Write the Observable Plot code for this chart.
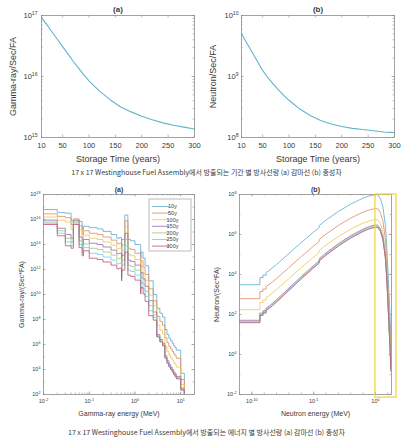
<!DOCTYPE html>
<html>
<head>
<meta charset="utf-8">
<script src="https://cdn.jsdelivr.net/npm/d3@7"></script>
<script src="https://cdn.jsdelivr.net/npm/@observablehq/plot@0.6"></script>
<style>
  body { margin: 0; background: #fff; }
  #fig { position: relative; width: 413px; height: 442px; overflow: hidden; background: #fff; }
  .panel { position: absolute; }
  .panel svg { overflow: visible; }
  .cap { position: absolute; left: 0; width: 413px; text-align: center; font-family: "Noto Sans CJK KR", "Noto Sans", sans-serif; font-size: 7px; line-height: 12px; color: #3a3a3a; white-space: nowrap; }
</style>
</head>
<body>
<div id="fig">
  <div id="tl" class="panel" style="left:0px;top:0px"></div>
  <div id="tr" class="panel" style="left:206px;top:0px"></div>
  <div class="cap" style="top:166px">17 x 17 Westinghouse Fuel Assembly에서 방출되는 기간 별 방사선량 (a) 감마선 (b) 중성자</div>
  <div id="bl" class="panel" style="left:0px;top:180px"></div>
  <div id="br" class="panel" style="left:206px;top:180px"></div>
  <div class="cap" style="top:426px">17 x 17 Westinghouse Fuel Assembly에서 방출되는 에너지 별 방사선량 (a) 감마선 (b) 중성자</div>
</div>
<script>
// ---------------- DATA ----------------
// (top) total source vs storage time
const storageYears = [10, 20, 30, 40, 50, 60, 70, 80, 90, 100, 120, 140, 160, 180, 200, 220, 240, 260, 280, 300];
const gammaTotalLog10 = [16.97, 16.85, 16.73, 16.61, 16.49, 16.37, 16.25, 16.14, 16.03, 15.93, 15.76, 15.62, 15.50, 15.42, 15.35, 15.29, 15.24, 15.20, 15.17, 15.14];
const neutronTotalLog10 = [9.70, 9.55, 9.40, 9.25, 9.10, 8.98, 8.88, 8.78, 8.69, 8.61, 8.47, 8.36, 8.28, 8.22, 8.18, 8.15, 8.13, 8.11, 8.09, 8.08];
const storageTicks = [10, 50, 100, 150, 200, 250, 300];

// (bottom) spectra
const ageLabels = ["10y", "50y", "100y", "150y", "200y", "250y", "300y"];

// gamma group boundaries (MeV)
const gammaBounds = [0.01, 0.02, 0.03, 0.04, 0.045, 0.06, 0.07, 0.075, 0.1, 0.15, 0.2, 0.3, 0.4, 0.45, 0.51, 0.512, 0.6, 0.7, 0.8, 1.0,
  1.333, 1.344, 1.5, 1.66, 2.0, 2.5, 3.0, 3.5, 4.0, 4.5, 5.0, 5.5, 6.0, 6.5, 7.0, 7.5, 8.0, 10, 12, 14, 20];
// log10(gamma-ray/(sec*FA)) per group
const gamma10y  = [16.8, 16.55, 16.5, 15.9, 16.0, 15.85, 15.2, 15.45, 15.35, 15.25, 15.05, 14.8, 14.5, 14.55, 13.0, 14.4, 16.35, 14.4, 14.3, 14.0,
  12.9, 13.4, 12.9, 12.3, 11.1, 10.0, 8.9, 8.5, 8.2, 7.2, 6.8, 6.5, 6.3, 6.1, 5.9, 5.75, 5.55, 3.7, 1.2, 0.5];
const gamma50y  = [16.45, 16.25, 16.15, 15.6, 16.05, 15.5, 14.8, 15.1, 14.9, 14.8, 14.6, 14.35, 14.05, 14.1, 12.6, 13.95, 15.9, 13.7, 13.6, 13.3,
  12.2, 12.7, 12.2, 11.6, 10.45, 9.5, 8.25, 7.85, 7.55, 6.55, 6.15, 5.85, 5.65, 5.45, 5.25, 5.1, 4.9, 3.2, 0.8, 0.2];
const gamma100y = [16.2, 15.95, 15.8, 15.2, 16.0, 15.15, 14.4, 14.75, 14.5, 14.4, 14.2, 13.95, 13.65, 13.7, 12.2, 13.55, 15.4, 13.2, 13.1, 12.8,
  11.7, 12.2, 11.7, 11.1, 9.95, 9.1, 7.55, 7.15, 6.85, 5.85, 5.45, 5.15, 4.95, 4.75, 4.55, 4.4, 4.2, 2.8, 0.5, 0.0];
const gamma150y = [15.95, 15.3, 14.8, 14.5, 15.9, 14.6, 13.9, 14.4, 14.1, 14.0, 13.8, 13.55, 13.25, 13.3, 11.8, 13.15, 14.9, 12.75, 12.65, 12.35,
  11.25, 11.75, 11.25, 10.65, 9.5, 8.6, 6.8, 6.4, 6.1, 5.1, 4.7, 4.4, 4.2, 4.0, 3.8, 3.65, 3.45, 2.5, 0.3, -0.2];
const gamma200y = [15.8, 15.1, 14.5, 14.2, 15.8, 14.3, 13.6, 14.05, 13.7, 13.6, 13.4, 13.15, 12.85, 12.9, 11.5, 12.75, 14.4, 12.35, 12.25, 11.95,
  10.85, 11.35, 10.85, 10.25, 9.1, 8.35, 6.7, 6.3, 6.0, 5.0, 4.6, 4.3, 4.1, 3.9, 3.7, 3.55, 3.35, 2.45, 0.3, -0.2];
const gamma250y = [15.7, 14.9, 14.2, 13.9, 15.7, 14.0, 13.3, 13.75, 13.3, 13.2, 13.0, 12.75, 12.45, 12.5, 11.3, 12.35, 13.9, 11.95, 11.85, 11.55,
  10.45, 10.95, 10.45, 9.85, 8.7, 8.15, 6.65, 6.25, 5.95, 4.95, 4.55, 4.25, 4.05, 3.85, 3.65, 3.5, 3.3, 2.4, 0.3, -0.2];
const gamma300y = [15.6, 14.7, 13.9, 13.7, 15.6, 13.75, 13.1, 13.5, 12.9, 12.8, 12.6, 12.35, 12.05, 12.1, 11.1, 11.95, 13.4, 11.55, 11.45, 11.15,
  10.05, 10.55, 10.05, 9.45, 8.3, 7.95, 6.6, 6.2, 5.9, 4.9, 4.5, 4.2, 4.0, 3.8, 3.6, 3.45, 3.25, 2.35, 0.3, -0.2];
const gammaSpectra = [gamma10y, gamma50y, gamma100y, gamma150y, gamma200y, gamma250y, gamma300y];

// neutron spectrum: log10(energy MeV) points and log10(neutron/(sec*FA))
const neutronEnergyLog10 = [-11, -9.35, -9.35, -9.1, -9.1, -8.85, -8.85, -8.6, -8, -7, -6, -5, -4.55, -4.55, -4, -3, -2, -1, -0.5,
  0, 0.2, 0.4, 0.6, 0.8, 0.9, 1.0, 1.1, 1.2, 1.25];
const neutron10y  = [3.49, 3.49, 3.85, 3.85, 3.97, 3.97, 4.10, 4.20, 4.50, 5.05, 5.60, 6.12, 6.35, 6.45, 6.72, 7.15, 7.52, 7.82, 7.93,
  8.00, 7.98, 7.80, 7.40, 6.50, 5.60, 4.40, 3.00, 1.70, 0.80];
const neutron50y  = [2.79, 2.79, 3.15, 3.15, 3.27, 3.27, 3.40, 3.50, 3.80, 4.35, 4.90, 5.42, 5.65, 5.75, 6.02, 6.45, 6.82, 7.12, 7.23,
  7.30, 7.28, 7.10, 6.70, 5.80, 4.90, 3.70, 2.30, 1.00, 0.10];
const neutron100y = [2.24, 2.24, 2.60, 2.60, 2.72, 2.72, 2.85, 2.95, 3.25, 3.80, 4.35, 4.87, 5.10, 5.20, 5.47, 5.90, 6.27, 6.57, 6.68,
  6.75, 6.73, 6.55, 6.15, 5.25, 4.35, 3.15, 1.75, 0.45, -0.45];
const neutron150y = [1.71, 1.71, 2.07, 2.07, 2.19, 2.19, 2.32, 2.42, 2.74, 3.32, 3.90, 4.45, 4.69, 4.79, 5.08, 5.54, 5.94, 6.27, 6.40,
  6.48, 6.46, 6.28, 5.88, 4.98, 4.08, 2.88, 1.48, 0.18, -0.72];
const neutron200y = [1.66, 1.66, 2.02, 2.02, 2.14, 2.14, 2.27, 2.37, 2.69, 3.27, 3.85, 4.40, 4.64, 4.74, 5.03, 5.49, 5.89, 6.22, 6.35,
  6.43, 6.41, 6.23, 5.83, 4.93, 4.03, 2.83, 1.43, 0.13, -0.77];
const neutron250y = [1.62, 1.62, 1.98, 1.98, 2.10, 2.10, 2.23, 2.33, 2.65, 3.23, 3.81, 4.36, 4.60, 4.70, 4.99, 5.45, 5.85, 6.18, 6.31,
  6.39, 6.37, 6.19, 5.79, 4.89, 3.99, 2.79, 1.39, 0.09, -0.81];
const neutron300y = [1.59, 1.59, 1.95, 1.95, 2.07, 2.07, 2.20, 2.30, 2.62, 3.20, 3.78, 4.33, 4.57, 4.67, 4.96, 5.42, 5.82, 6.15, 6.28,
  6.36, 6.34, 6.16, 5.76, 4.86, 3.96, 2.76, 1.36, 0.06, -0.84];
const neutronSpectra = [neutron10y, neutron50y, neutron100y, neutron150y, neutron200y, neutron250y, neutron300y];

// highlighted region in (b) spectrum
const highlightRegion = [{e1: 1, e2: 50, n1: 0.007, n2: 1e8}];

// ---------------- STYLE ----------------
const FONT = '"Liberation Sans", Arial, Helvetica, sans-serif';
const FRAME = "#8c8c8c";
const TEXT = "#3a3a3a";
const CURVE = "#62b4cd";
const seriesColors = ["#5aaad2", "#e08a5c", "#eec650", "#9a6aae", "#9cc874", "#74cbef", "#c0506c"];

// ---------------- TABLES ----------------
const topGamma = storageYears.map((t, i) => ({t, v: Math.pow(10, gammaTotalLog10[i])}));
const topNeutron = storageYears.map((t, i) => ({t, v: Math.pow(10, neutronTotalLog10[i])}));
const gammaRows = [];
gammaSpectra.forEach((vals, s) => {
  vals.forEach((v, g) => gammaRows.push({series: ageLabels[s], e: gammaBounds[g], v: Math.pow(10, v)}));
  gammaRows.push({series: ageLabels[s], e: gammaBounds[gammaBounds.length - 1], v: Math.pow(10, vals[vals.length - 1])});
});
const neutronRows = [];
neutronSpectra.forEach((vals, s) => {
  vals.forEach((v, k) => neutronRows.push({series: ageLabels[s], e: Math.pow(10, neutronEnergyLog10[k]), v: Math.pow(10, v)}));
});

// ---------------- HELPERS ----------------
const powFmt = d => "10^" + Math.round(Math.log10(d));
function decades(lo, hi) { return d3.range(lo, hi + 1).map(e => Math.pow(10, e)); }
function boxTicksX(values, fh, len) {
  return [
    Plot.tickX(values, {x: d => d, insetTop: fh - len, stroke: FRAME, strokeWidth: 0.6}),
    Plot.tickX(values, {x: d => d, insetBottom: fh - len, stroke: FRAME, strokeWidth: 0.6})
  ];
}
function boxTicksY(values, fw, len) {
  return [
    Plot.tickY(values, {y: d => d, insetRight: fw - len, stroke: FRAME, strokeWidth: 0.6}),
    Plot.tickY(values, {y: d => d, insetLeft: fw - len, stroke: FRAME, strokeWidth: 0.6})
  ];
}
function superscripts(svg) {
  d3.select(svg).selectAll("text").each(function () {
    const m = /^10\^(-?\d+)$/.exec(this.textContent.trim());
    if (!m) return;
    const sel = d3.select(this);
    sel.text(null);
    sel.append("tspan").text("10");
    sel.append("tspan").attr("dy", "-0.55em").attr("font-size", "0.68em").text(m[1]);
  });
  return svg;
}
const baseStyle = fs => ({fontFamily: FONT, fontSize: fs, color: TEXT, background: "transparent", overflow: "visible"});

// ---------------- TOP LEFT ----------------
{
  const W = 206, H = 170, mL = 41, mR = 12, mT = 15, mB = 33;
  const fw = W - mL - mR, fh = H - mT - mB;
  const svg = Plot.plot({
    width: W, height: H, marginLeft: mL, marginRight: mR, marginTop: mT, marginBottom: mB,
    style: baseStyle("7.5px"),
    x: {type: "linear", domain: [10, 300]},
    y: {type: "log", domain: [1e15, 1e17]},
    marks: [
      ...boxTicksX(storageTicks, fh, 2.5),
      ...boxTicksY(d3.scaleLog().domain([1e15, 1e17]).ticks(), fw, 1.5),
      ...boxTicksY(decades(15, 17), fw, 2.5),
      Plot.line(topGamma, {x: "t", y: "v", stroke: CURVE, strokeWidth: 1.1}),
      Plot.frame({stroke: FRAME, strokeWidth: 0.8}),
      Plot.axisX(storageTicks, {tickSize: 0, tickPadding: 5, label: null, fontSize: 7.5}),
      Plot.axisY(decades(15, 17), {tickSize: 0, tickPadding: 4, tickFormat: powFmt, label: null, fontSize: 7.5}),
      Plot.text(["(a)"], {text: d => d, frameAnchor: "top", dy: -6, lineAnchor: "middle", fontWeight: "bold", fontSize: 8}),
      Plot.text(["Storage Time (years)"], {text: d => d, frameAnchor: "bottom", dy: 22, lineAnchor: "middle", fontSize: 9}),
      Plot.text(["Gamma-ray/Sec/FA"], {text: d => d, frameAnchor: "left", dx: -28, rotate: -90, textAnchor: "middle", lineAnchor: "middle", fontSize: 9})
    ]
  });
  document.getElementById("tl").appendChild(superscripts(svg));
}

// ---------------- TOP RIGHT ----------------
{
  const W = 207, H = 170, mL = 35, mR = 19, mT = 15, mB = 33;
  const fw = W - mL - mR, fh = H - mT - mB;
  const svg = Plot.plot({
    width: W, height: H, marginLeft: mL, marginRight: mR, marginTop: mT, marginBottom: mB,
    style: baseStyle("7.5px"),
    x: {type: "linear", domain: [10, 300]},
    y: {type: "log", domain: [1e8, 1e10]},
    marks: [
      ...boxTicksX(storageTicks, fh, 2.5),
      ...boxTicksY(d3.scaleLog().domain([1e8, 1e10]).ticks(), fw, 1.5),
      ...boxTicksY(decades(8, 10), fw, 2.5),
      Plot.line(topNeutron, {x: "t", y: "v", stroke: CURVE, strokeWidth: 1.1}),
      Plot.frame({stroke: FRAME, strokeWidth: 0.8}),
      Plot.axisX(storageTicks, {tickSize: 0, tickPadding: 5, label: null, fontSize: 7.5}),
      Plot.axisY(decades(8, 10), {tickSize: 0, tickPadding: 3, tickFormat: powFmt, label: null, fontSize: 7.5}),
      Plot.text(["(b)"], {text: d => d, frameAnchor: "top", dy: -6, lineAnchor: "middle", fontWeight: "bold", fontSize: 8}),
      Plot.text(["Storage Time (years)"], {text: d => d, frameAnchor: "bottom", dy: 22, lineAnchor: "middle", fontSize: 9}),
      Plot.text(["Neutron/Sec/FA"], {text: d => d, frameAnchor: "left", dx: -28, rotate: -90, textAnchor: "middle", lineAnchor: "middle", fontSize: 9})
    ]
  });
  document.getElementById("tr").appendChild(superscripts(svg));
}

// ---------------- BOTTOM LEFT ----------------
{
  const W = 206, H = 262, mL = 43, mR = 12, mT = 14, mB = 48;
  const fw = W - mL - mR, fh = H - mT - mB;
  const svg = Plot.plot({
    width: W, height: H, marginLeft: mL, marginRight: mR, marginTop: mT, marginBottom: mB,
    style: baseStyle("5.5px"),
    x: {type: "log", domain: [0.01, 20]},
    y: {type: "log", domain: [1e2, 1e18]},
    color: {domain: ageLabels, range: seriesColors},
    marks: [
      ...boxTicksX(d3.scaleLog().domain([0.01, 20]).ticks(), fh, 1.5),
      ...boxTicksX(decades(-2, 1), fh, 2.5),
      ...boxTicksY(decades(2, 18), fw, 1.5),
      ...boxTicksY(d3.range(2, 19, 2).map(e => Math.pow(10, e)), fw, 2.5),
      Plot.line(gammaRows, {x: "e", y: "v", z: "series", stroke: "series", curve: "step-after", strokeWidth: 0.8, clip: true}),
      Plot.frame({stroke: FRAME, strokeWidth: 0.8}),
      Plot.axisX(decades(-2, 1), {tickSize: 0, tickPadding: 5, tickFormat: powFmt, label: null, fontSize: 5.5}),
      Plot.axisY(d3.range(2, 19, 2).map(e => Math.pow(10, e)), {tickSize: 0, tickPadding: 3, tickFormat: powFmt, label: null, fontSize: 5.5}),
      Plot.text(["(a)"], {text: d => d, frameAnchor: "top", dy: -5, lineAnchor: "middle", fontWeight: "bold", fontSize: 7}),
      Plot.text(["Gamma-ray energy (MeV)"], {text: d => d, frameAnchor: "bottom", dy: 19, lineAnchor: "middle", fontSize: 7}),
      Plot.text(["Gamma-ray/(Sec*FA)"], {text: d => d, frameAnchor: "left", dx: -22, rotate: -90, textAnchor: "middle", lineAnchor: "middle", fontSize: 7})
    ]
  });
  superscripts(svg);
  // legend
  const lg = d3.select(svg).append("g").attr("font-family", FONT).attr("font-size", 5.5).attr("fill", TEXT);
  lg.append("rect").attr("x", 149).attr("y", 19).attr("width", 42).attr("height", 52)
    .attr("fill", "#fff").attr("stroke", FRAME).attr("stroke-width", 0.6);
  ageLabels.forEach((lab, i) => {
    const yy = 26.5 + i * 6.6;
    lg.append("line").attr("x1", 152).attr("x2", 169).attr("y1", yy).attr("y2", yy)
      .attr("stroke", seriesColors[i]).attr("stroke-width", 0.8);
    lg.append("text").attr("x", 172.5).attr("y", yy).attr("dy", "0.35em").text(lab);
  });
  document.getElementById("bl").appendChild(svg);
}

// ---------------- BOTTOM RIGHT ----------------
{
  const W = 207, H = 262, mL = 33, mR = 22, mT = 14, mB = 48;
  const fw = W - mL - mR, fh = H - mT - mB;
  const svg = Plot.plot({
    width: W, height: H, marginLeft: mL, marginRight: mR, marginTop: mT, marginBottom: mB,
    style: baseStyle("5.5px"),
    x: {type: "log", domain: [1e-11, 20]},
    y: {type: "log", domain: [1e-2, 1e8]},
    color: {domain: ageLabels, range: seriesColors},
    marks: [
      ...boxTicksX(decades(-11, 1), fh, 1.5),
      ...boxTicksX([1e-10, 1e-5, 1], fh, 2.5),
      ...boxTicksY(decades(-2, 8), fw, 1.5),
      ...boxTicksY(d3.range(-2, 9, 2).map(e => Math.pow(10, e)), fw, 2.5),
      Plot.line(neutronRows, {x: "e", y: "v", z: "series", stroke: "series", strokeWidth: 0.8, clip: true}),
      Plot.frame({stroke: FRAME, strokeWidth: 0.8}),
      Plot.rect(highlightRegion, {x1: "e1", x2: "e2", y1: "n1", y2: "n2", fill: "none", stroke: "#efd83a", strokeWidth: 1.3}),
      Plot.axisX([1e-10, 1e-5, 1], {tickSize: 0, tickPadding: 5, tickFormat: powFmt, label: null, fontSize: 5.5}),
      Plot.axisY(d3.range(-2, 9, 2).map(e => Math.pow(10, e)), {tickSize: 0, tickPadding: 3, tickFormat: powFmt, label: null, fontSize: 5.5}),
      Plot.text(["(b)"], {text: d => d, frameAnchor: "top", dy: -5, lineAnchor: "middle", fontWeight: "bold", fontSize: 7}),
      Plot.text(["Neutron energy (MeV)"], {text: d => d, frameAnchor: "bottom", dy: 19, lineAnchor: "middle", fontSize: 7}),
      Plot.text(["Neutron/(Sec*FA)"], {text: d => d, frameAnchor: "left", dx: -23, rotate: -90, textAnchor: "middle", lineAnchor: "middle", fontSize: 7})
    ]
  });
  document.getElementById("br").appendChild(superscripts(svg));
}
</script>
</body>
</html>
